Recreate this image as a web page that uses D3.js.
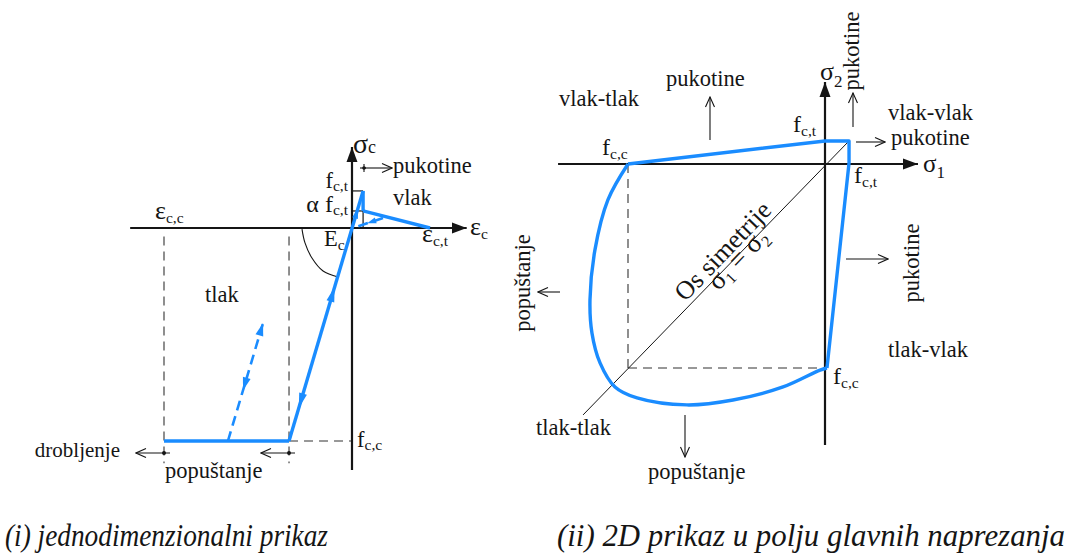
<!DOCTYPE html>
<html><head><meta charset="utf-8">
<script src="https://cdn.jsdelivr.net/npm/d3@7"></script>
<style>
body{margin:0;background:#fff}
text{font-family:"Liberation Serif","Times New Roman",serif;fill:#151515}
</style></head><body>
<svg id="c" width="1071" height="554"></svg>
<script>
// ===== (i) uniaxial diagram: strain normalised by eps_c,c, stress by f_c,c =====
const uniKey = {epsCC: -1, epsY: -0.335, epsT: 0.415, fCC: -1, fCT: 0.174, aFCT: 0.08, epsPk: 0.059};
const uniLoad    = [[-0.335, -1], [0.059, 0.174]];          // elastic branch E_c through origin
const uniDrop    = [[0.059, 0.174], [0.059, 0.08]];
const uniSoften  = [[0.059, 0.08], [0.415, 0]];
const uniPlateau = [[-1, -1], [-0.335, -1]];
const uniUnloadT = [[0.165, 0.047], [0.012, 0.002]];
const uniReloadC = [[-0.66, -1], [-0.473, -0.446]];
const uniArc     = [[-0.266, -0.005], [-0.25, -0.07], [-0.213, -0.141], [-0.154, -0.202], [-0.074, -0.23]];
const uniAxisX   = [-1.18, 0.61];
const uniAxisY   = [-1.136, 0.38];

// ===== (ii) biaxial envelope: sigma1, sigma2 normalised by f_c,c =====
const envStraight = [[-1, 0], [0, 0.113], [0.122, 0.113], [0.122, 0.005], [0.01, -1]];
const envCurve = [[0.01, -1], [-0.025, -1.01], [-0.213, -1.093], [-0.467, -1.157], [-0.701, -1.181],
  [-0.954, -1.147], [-1.066, -1.093], [-1.142, -0.975], [-1.183, -0.828], [-1.193, -0.667],
  [-1.168, -0.422], [-1.102, -0.176], [-1, 0]];
const symAxis = [[0.122, 0.113], [-1.228, -1.23]];
const biAxisX = [-1.355, 0.472];
const biAxisY = [-1.377, 0.402];

const BLUE = "#1a8cff", INK = "#151515", FS = 22.5, SFS = 15.5;
const svg = d3.select("#c");
const defs = svg.append("defs");
defs.append("marker").attr("id","af").attr("viewBox","0 -6 15 12").attr("refX",15).attr("refY",0)
  .attr("markerWidth",15).attr("markerHeight",12).attr("markerUnits","userSpaceOnUse").attr("orient","auto")
  .append("path").attr("d","M0,-5.5L15,0L0,5.5Z").attr("fill",INK);
defs.append("marker").attr("id","ao").attr("viewBox","-1 -6 12 12").attr("refX",10).attr("refY",0)
  .attr("markerWidth",12).attr("markerHeight",12).attr("markerUnits","userSpaceOnUse").attr("orient","auto")
  .append("path").attr("d","M0,-4.5L10,0L0,4.5").attr("fill","none").attr("stroke",INK).attr("stroke-width",1.1);

const xL = d3.scaleLinear().domain([-1, 0]).range([164, 352]);
const yL = d3.scaleLinear().domain([-1, 0]).range([441, 228]);
const xR = d3.scaleLinear().domain([-1, 0]).range([628, 825]);
const yR = d3.scaleLinear().domain([-1, 0]).range([368, 164]);
const lineL = d3.line().x(d => xL(d[0])).y(d => yL(d[1]));
const lineR = d3.line().x(d => xR(d[0])).y(d => yR(d[1]));

function seg(x1,y1,x2,y2,o={}) {
  return svg.append("line").attr("x1",x1).attr("y1",y1).attr("x2",x2).attr("y2",y2)
    .attr("stroke",o.c||INK).attr("stroke-width",o.w||1.1).attr("stroke-dasharray",o.dash||null)
    .attr("marker-end",o.m?`url(#${o.m})`:null);
}
function blueHead(p0, p1, t, len=14, hw=3.5) {
  const dx=p1[0]-p0[0], dy=p1[1]-p0[1], L=Math.hypot(dx,dy), ux=dx/L, uy=dy/L;
  const tip=[p0[0]+dx*t, p0[1]+dy*t];
  const b=[tip[0]-ux*len, tip[1]-uy*len];
  svg.append("path").attr("d",`M${tip}L${b[0]-uy*hw},${b[1]+ux*hw}L${b[0]+uy*hw},${b[1]-ux*hw}Z`).attr("fill",BLUE);
}
function label(x, y, main, sub, o={}) {
  const t = svg.append("text").attr("x",x).attr("y",y).attr("text-anchor",o.anchor||"start");
  t.append("tspan").text(main).attr("font-size",o.fs||FS);
  if (sub) t.append("tspan").text(sub).attr("font-size",o.sfs||SFS).attr("dy",o.dy ?? 4);
  return t;
}

// ---------------- LEFT DIAGRAM ----------------
[uniKey.epsCC, uniKey.epsY].forEach(e => seg(xL(e), yL(-0.04), xL(e), yL(-1.105), {dash:"9,6", c:"#333"}));
seg(xL(uniKey.epsY), yL(-1), xL(0), yL(-1), {dash:"9,6", c:"#333"});
seg(xL(0), yL(uniKey.fCT), xL(uniKey.epsPk), yL(uniKey.fCT), {w:1.2});
seg(xL(uniKey.epsPk), yL(uniKey.fCT), xL(uniKey.epsPk), yL(0), {w:1.2});
seg(xL(0), yL(uniKey.aFCT), xL(uniKey.epsPk), yL(uniKey.aFCT), {w:1.2});
svg.append("path").attr("d", d3.line().x(d=>xL(d[0])).y(d=>yL(d[1])).curve(d3.curveCatmullRom)(uniArc))
  .attr("fill","none").attr("stroke",INK).attr("stroke-width",1.1);
seg(xL(uniAxisX[0]), yL(0), xL(uniAxisX[1]), yL(0), {w:2.2, m:"af"});
seg(xL(0), yL(uniAxisY[0]), xL(0), yL(uniAxisY[1]), {w:2.2, m:"af"});
[uniLoad, uniDrop, uniSoften, uniPlateau].forEach(d =>
  svg.append("path").attr("d", lineL(d)).attr("fill","none").attr("stroke",BLUE).attr("stroke-width",3.4).attr("stroke-linejoin","round"));
[uniUnloadT, uniReloadC].forEach(d =>
  svg.append("path").attr("d", lineL(d)).attr("fill","none").attr("stroke",BLUE).attr("stroke-width",2.6).attr("stroke-dasharray","10,6"));
const lp0=[xL(uniLoad[0][0]), yL(uniLoad[0][1])], lp1=[xL(uniLoad[1][0]), yL(uniLoad[1][1])];
blueHead(lp0, lp1, 0.616, 15, 4);
blueHead(lp1, lp0, 0.868, 15, 4);
blueHead(lp0, lp1, 0.93, 10, 3);
const rp0=[xL(uniReloadC[0][0]), yL(uniReloadC[0][1])], rp1=[xL(uniReloadC[1][0]), yL(uniReloadC[1][1])];
blueHead(rp0, rp1, 1.0, 13, 4);
blueHead(rp1, rp0, 0.57, 13, 4);
const up0=[xL(uniUnloadT[0][0]), yL(uniUnloadT[0][1])], up1=[xL(uniUnloadT[1][0]), yL(uniUnloadT[1][1])];
blueHead(up0, up1, 0.55, 9, 3);
seg(xL(0)+12, 168, xL(0)+40, 168, {m:"ao"});
seg(xL(0)+8, 168, xL(0)+14, 168);
svg.append("circle").attr("cx",xL(0)+12).attr("cy",168).attr("r",1.8).attr("fill",INK);
seg(xL(0)+12, 164, xL(0)+12, 172);
[uniKey.epsCC, uniKey.epsY].forEach(e => {
  seg(xL(e)+6, 453, xL(e)-28, 453, {m:"ao"});
  svg.append("circle").attr("cx",xL(e)).attr("cy",453).attr("r",2).attr("fill",INK);
});
label(xL(0)+1, 153, "σ", "c", {fs:28, sfs:18, dy:0});
label(xL(0)+41, 173, "pukotine");
label(xL(0)+41, 205, "vlak");
label(xL(0)-4, 188, "f", "c,t", {anchor:"end", dy:3});
label(xL(0)-4, 212, "α f", "c,t", {anchor:"end", dy:3}).select("tspan").attr("font-size",24);
label(xL(0)-28, 246, "E", "c", {dy:4});
label(155, 219, "ε", "c,c", {fs:26, dy:4});
label(422, 242, "ε", "c,t", {fs:26, dy:4});
label(470, 235, "ε", "c", {fs:26, dy:4});
label(xL(0)+5, 447, "f", "c,c", {dy:3});
label(205, 302, "tlak");
label(165, 478, "popuštanje");
label(120, 457, "drobljenje", null, {anchor:"end", fs:21});

// ---------------- RIGHT DIAGRAM ----------------
seg(xR(-1), yR(0), xR(-1), yR(-1), {dash:"9,6", c:"#333"});
seg(xR(-1), yR(-1), xR(0), yR(-1), {dash:"9,6", c:"#333"});
svg.append("path").attr("d", lineR(symAxis)).attr("stroke",INK).attr("stroke-width",1);
seg(xR(biAxisX[0]), yR(0), xR(biAxisX[1]), yR(0), {w:2.2, m:"af"});
seg(xR(0), yR(biAxisY[0]), xR(0), yR(biAxisY[1]), {w:2.2, m:"af"});
svg.append("path").attr("d", lineR(envStraight)).attr("fill","none").attr("stroke",BLUE).attr("stroke-width",3.4).attr("stroke-linejoin","round");
svg.append("path").attr("d", d3.line().x(d=>xR(d[0])).y(d=>yR(d[1])).curve(d3.curveCatmullRom)(envCurve))
  .attr("fill","none").attr("stroke",BLUE).attr("stroke-width",3.4);
seg(710, 140, 710, 97, {m:"ao"});
seg(853, 127, 853, 93, {m:"ao"});
seg(856, 142, 885, 142, {m:"ao"});
seg(560, 292, 538, 292, {m:"ao"});
seg(846, 259, 888, 259, {m:"ao"});
seg(685, 415, 685, 457, {m:"ao"});
label(666, 86, "pukotine");
label(559, 106, "vlak-tlak");
label(793, 132, "f", "c,t", {fs:24, dy:4});
label(602, 155, "f", "c,c", {fs:24, dy:4});
label(888, 120, "vlak-vlak");
label(891, 145, "pukotine");
label(923, 172, "σ", "1", {fs:25, sfs:17, dy:6});
label(820, 80, "σ", "2", {fs:26, sfs:17, dy:7});
label(854, 183, "f", "c,t", {fs:24, dy:4});
label(888, 357, "tlak-vlak");
label(833, 384, "f", "c,c", {fs:24, dy:4});
label(536, 435, "tlak-tlak");
label(648, 479, "popuštanje");
svg.append("text").attr("transform","translate(859,51) rotate(-90)").attr("text-anchor","middle").attr("font-size",FS).text("pukotine");
svg.append("text").attr("transform","translate(919,263) rotate(-90)").attr("text-anchor","middle").attr("font-size",FS).text("pukotine");
svg.append("text").attr("transform","translate(530,283) rotate(-90)").attr("text-anchor","middle").attr("font-size",FS).text("popuštanje");
svg.append("text").attr("transform","translate(729,257) rotate(-46)").attr("text-anchor","middle").attr("font-size",26).text("Os simetrije");
const sg = svg.append("text").attr("transform","translate(744,265) rotate(-46)").attr("text-anchor","middle").attr("font-size",27);
sg.append("tspan").text("σ"); sg.append("tspan").text("1").attr("font-size",16).attr("dy",5);
sg.append("tspan").text(" = σ").attr("dy",-5); sg.append("tspan").text("2").attr("font-size",16).attr("dy",5);

svg.append("text").attr("x",5).attr("y",546).attr("font-size",31).attr("font-style","italic")
  .attr("textLength",323).attr("lengthAdjust","spacingAndGlyphs").text("(i) jednodimenzionalni prikaz");
svg.append("text").attr("x",557).attr("y",546).attr("font-size",31).attr("font-style","italic")
  .attr("textLength",508).attr("lengthAdjust","spacingAndGlyphs").text("(ii) 2D prikaz u polju glavnih naprezanja");
</script></body></html>
